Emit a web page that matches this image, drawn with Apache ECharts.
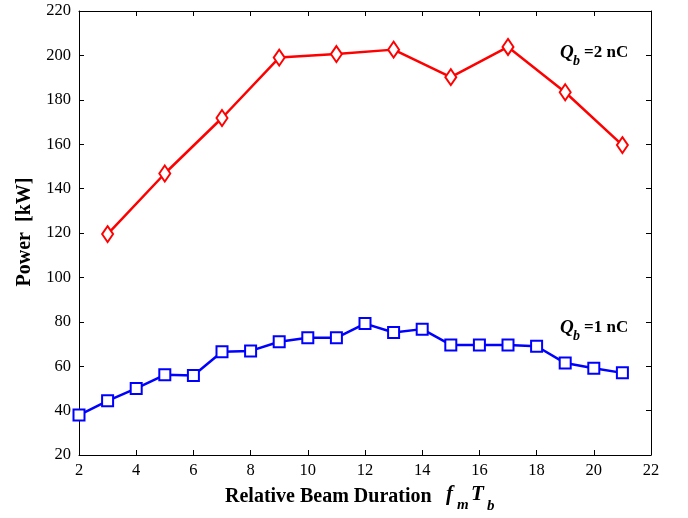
<!DOCTYPE html>
<html><head><meta charset="utf-8">
<script src="https://cdn.jsdelivr.net/npm/echarts@6/dist/echarts.min.js"></script>
<style>html,body{margin:0;padding:0;background:#fff}#c{width:688px;height:518px}</style>
</head><body><div id="c"></div>
<script>
const xBlue = [2,3,4,5,6,7,8,9,10,11,12,13,14,15,16,17,18,19,20,21];
const yBlue = [38,44.4,50,56.1,55.8,66.5,66.9,71,72.8,72.8,79.2,75.2,76.7,69.6,69.5,69.5,69.0,61.4,59.1,57.0];
const xRed = [3,5,7,9,11,13,15,17,19,21];
const yRed = [119.5,146.8,171.8,199,200.6,202.6,190.2,203.8,183.4,159.6];
const xTicks = {min:2, max:22, interval:2};
const yTicks = {min:20, max:220, interval:20};

const F = "'Liberation Serif','Times New Roman',serif";
const chart = echarts.init(document.getElementById('c'), null, {renderer:'canvas'});
const axisCommon = {
  axisLine:{show:true, onZero:false, lineStyle:{color:'#000', width:1}},
  axisTick:{show:true, inside:true, length:5, lineStyle:{color:'#000'}},
  splitLine:{show:false}
};
function txt(x,y,s,size,style,extra){
  return Object.assign({type:'text', x:x, y:y, style:{text:s, fill:'#000', font:(style||'')+' '+size+'px '+F, textVerticalAlign:'middle'}}, extra||{});
}
chart.setOption({
  animation:false,
  backgroundColor:'#fff',
  grid:{left:79, right:37, top:11, bottom:63},
  xAxis:[
    Object.assign({type:'value', position:'bottom', min:xTicks.min, max:xTicks.max, interval:xTicks.interval,
      axisLabel:{color:'#000', fontFamily:F, fontSize:16.5, margin:7}}, axisCommon),
    Object.assign({type:'value', position:'top', min:xTicks.min, max:xTicks.max, interval:xTicks.interval,
      axisLabel:{show:false}}, axisCommon)
  ],
  yAxis:[
    Object.assign({type:'value', position:'left', min:yTicks.min, max:yTicks.max, interval:yTicks.interval,
      axisLabel:{color:'#000', fontFamily:F, fontSize:16.5, margin:8}}, axisCommon),
    Object.assign({type:'value', position:'right', min:yTicks.min, max:yTicks.max, interval:yTicks.interval,
      axisLabel:{show:false}}, axisCommon)
  ],
  series:[
    {type:'line', data:xRed.map((x,i)=>[x,yRed[i]]), symbol:'diamond', symbolSize:[11,16],
      lineStyle:{color:'#ff0000', width:2.5}, itemStyle:{color:'#fff', borderColor:'#ff0000', borderWidth:2}},
    {type:'line', data:xBlue.map((x,i)=>[x,yBlue[i]]), symbol:'rect', symbolSize:[11,11],
      lineStyle:{color:'#0000ff', width:2.5}, itemStyle:{color:'#fff', borderColor:'#0000ff', borderWidth:2}}
  ],
  graphic:[
    txt(560,53,'Q',19,'italic bold'),
    txt(573,61,'b',14,'italic bold'),
    txt(584,53,'=2 nC',17,'bold'),
    txt(560,328,'Q',19,'italic bold'),
    txt(573,336,'b',14,'italic bold'),
    txt(584,328,'=1 nC',17,'bold'),
    txt(225,497,'Relative Beam Duration',20,'bold'),
    txt(446,495,'f',21,'italic bold'),
    txt(457,505,'m',15,'italic bold'),
    txt(471,495,'T',21,'italic bold'),
    txt(487,506,'b',15,'italic bold'),
    {type:'text', x:25, y:232, rotation:Math.PI/2, style:{text:'Power  [kW]', fill:'#000', font:'bold 20px '+F, textAlign:'center', textVerticalAlign:'middle'}}
  ]
});
</script></body></html>
